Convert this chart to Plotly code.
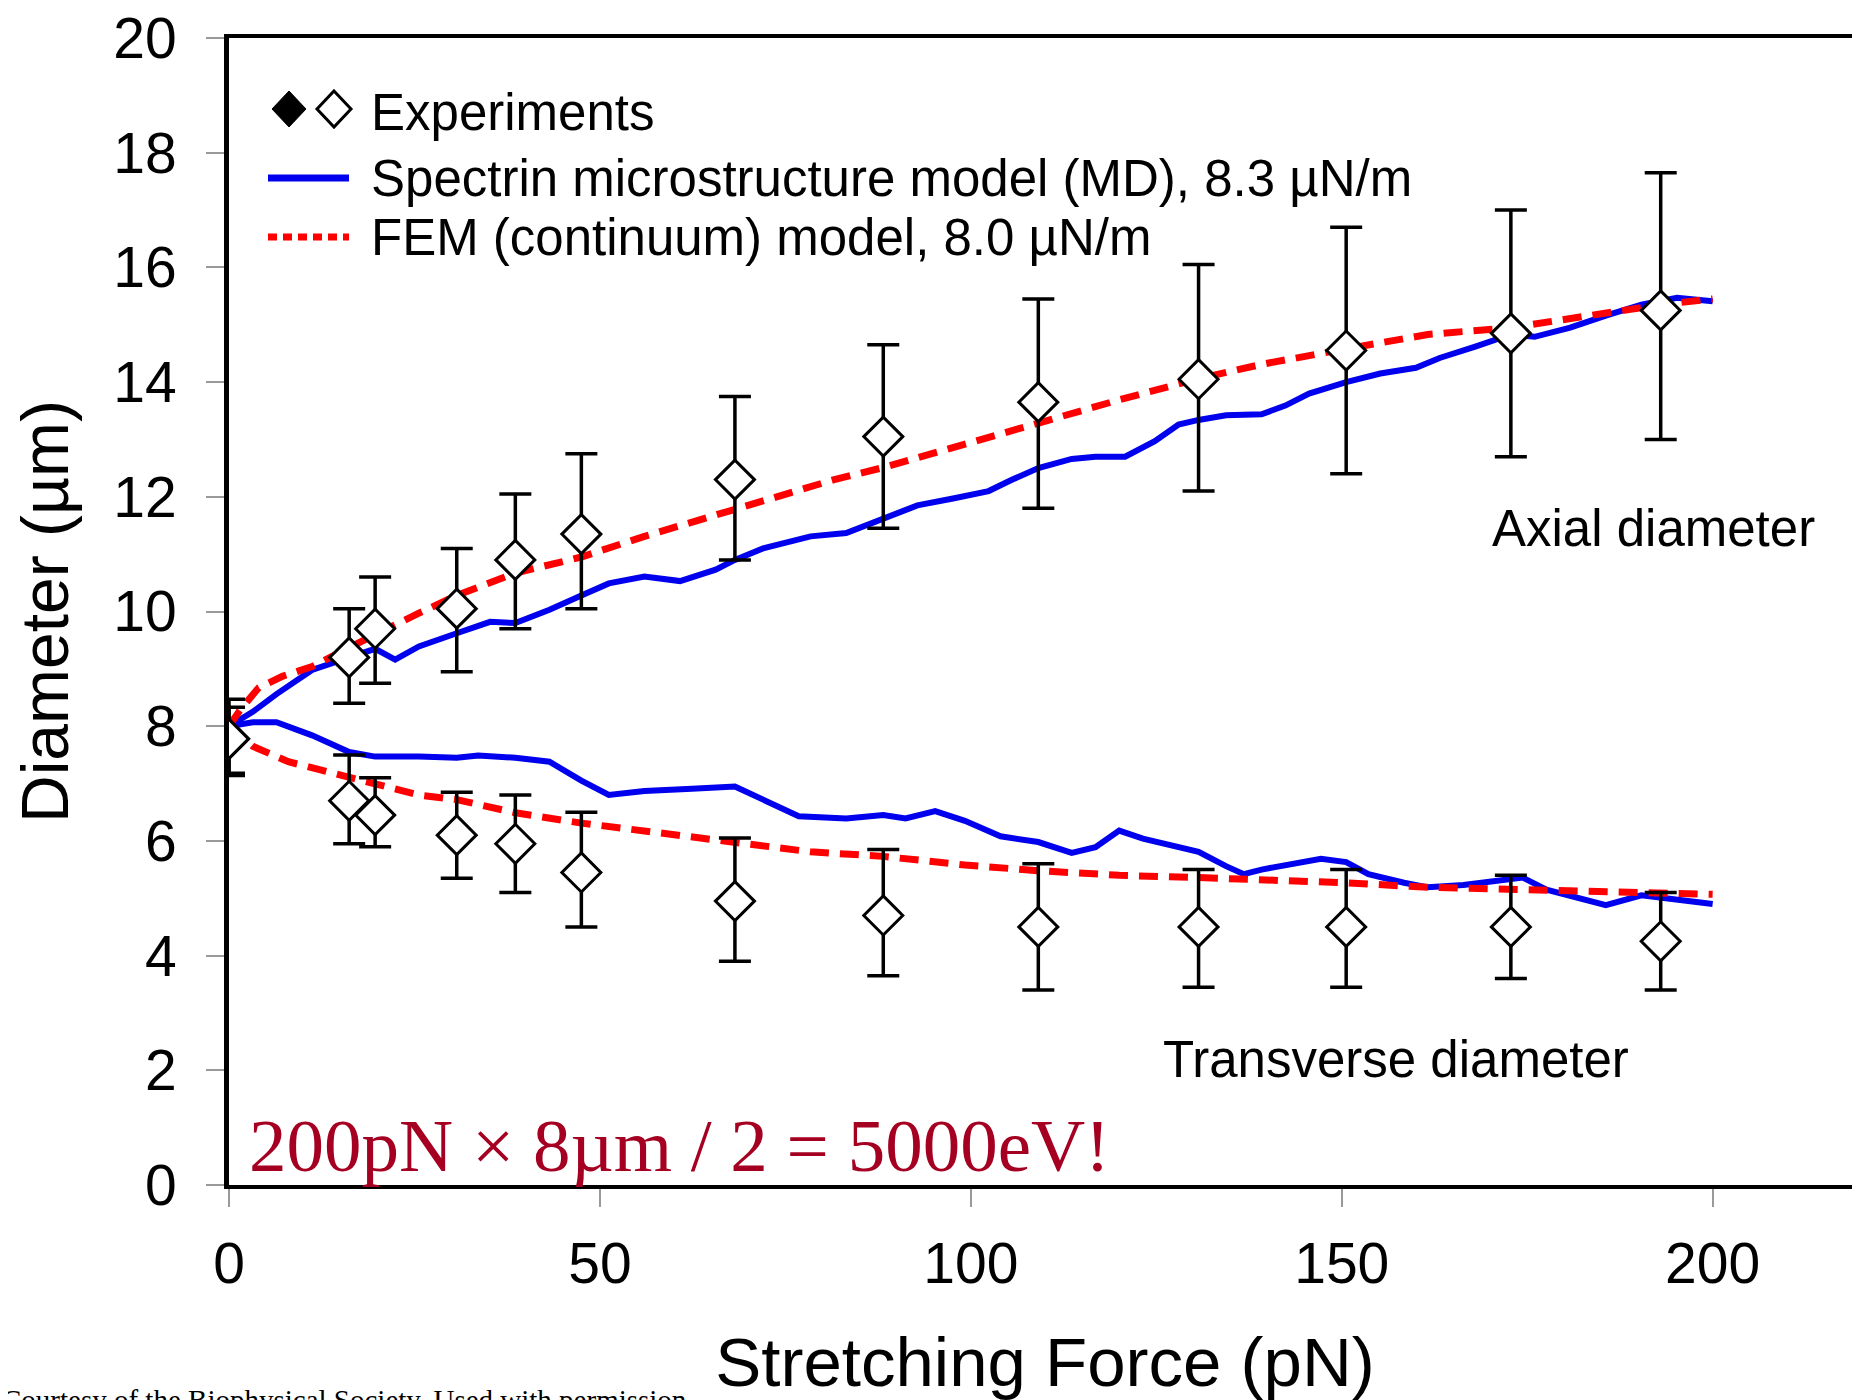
import plotly.graph_objects as go

# ---------------- data ----------------
force_exp = [0, 16.2, 19.7, 30.7, 38.6, 47.5, 68.2, 88.2, 109.1, 130.7, 150.6, 172.8, 193.0]
axial_mean = [7.78, 9.2, 9.7, 10.05, 10.9, 11.35, 12.3, 13.05, 13.65, 14.05, 14.55, 14.85, 15.25]
axial_hi = [8.47, 10.05, 10.6, 11.1, 12.05, 12.75, 13.75, 14.65, 15.45, 16.05, 16.7, 17.0, 17.65]
axial_lo = [7.18, 8.4, 8.75, 8.95, 9.7, 10.05, 10.9, 11.45, 11.8, 12.1, 12.4, 12.7, 13.0]
trans_mean = [7.78, 6.7, 6.45, 6.1, 5.95, 5.45, 4.95, 4.7, 4.5, 4.5, 4.5, 4.5, 4.25]
trans_hi = [8.33, 7.5, 7.1, 6.85, 6.8, 6.5, 6.05, 5.85, 5.6, 5.5, 5.5, 5.4, 5.1]
trans_lo = [7.14, 5.95, 5.9, 5.35, 5.1, 4.5, 3.9, 3.65, 3.4, 3.45, 3.45, 3.6, 3.4]

md_ax_x = [0, 3.2, 6.4, 11.2, 16.2, 19.7, 22.4, 25.6, 30.7, 35.2, 38.6, 43.2, 47.5, 51.2, 56,
           60.8, 65.6, 68.2, 72, 78.4, 83.2, 88.2, 92.8, 97.6, 102.4, 105.6, 109.1, 113.6,
           116.8, 120.8, 124.8, 128, 130.7, 134.4, 139.2, 142.4, 145.6, 150.6, 155.2, 160,
           163.2, 168, 172.8, 176, 180.8, 185.6, 190.4, 195.2, 200]
md_ax_y = [8.0, 8.25, 8.56, 8.98, 9.2, 9.35, 9.16, 9.39, 9.62, 9.82, 9.8, 10.03, 10.28, 10.49, 10.61,
           10.53, 10.73, 10.9, 11.1, 11.31, 11.37, 11.62, 11.85, 11.97, 12.1, 12.3, 12.5, 12.66,
           12.7, 12.7, 12.97, 13.26, 13.34, 13.42, 13.44, 13.59, 13.8, 14.0, 14.15, 14.25,
           14.42, 14.62, 14.83, 14.79, 14.95, 15.16, 15.35, 15.47, 15.41]

md_tr_x = [0, 3.2, 6.4, 11.2, 16.2, 19.7, 25.6, 30.7, 33.6, 38.6, 43.2, 47.5, 51.2, 56, 62.4,
           68.2, 72, 76.8, 83.2, 88.2, 91.2, 95.2, 99.2, 104, 109.1, 113.6, 116.8, 120, 123.2,
           128, 130.7, 134.4, 136.8, 139.2, 144, 147.2, 150.6, 153.6, 158.4, 161.6, 166.4,
           171.2, 174.4, 177.6, 182.4, 185.6, 190.4, 195.2, 200]
md_tr_y = [8.0, 8.07, 8.07, 7.84, 7.55, 7.47, 7.47, 7.45, 7.49, 7.45, 7.38, 7.05, 6.8, 6.87, 6.91,
           6.95, 6.72, 6.43, 6.39, 6.45, 6.39, 6.52, 6.35, 6.08, 5.98, 5.79, 5.89, 6.18, 6.04,
           5.89, 5.81, 5.56, 5.42, 5.5, 5.6, 5.69, 5.63, 5.42, 5.27, 5.19, 5.23,
           5.32, 5.36, 5.15, 4.98, 4.88, 5.05, 4.98, 4.9]

fem_ax_x = [0, 1.6, 4, 7.2, 11.2, 16.2, 19.7, 25.6, 30.7, 38.6, 47.5, 56, 68.2, 81.6, 88.2,
            97.6, 109.1, 120, 130.7, 139.2, 150.6, 161.6, 172.8, 182.4, 193, 200]
fem_ax_y = [8.0, 8.3, 8.67, 8.87, 9.04, 9.35, 9.6, 9.97, 10.28, 10.67, 10.95, 11.31, 11.77, 12.3, 12.51,
            12.86, 13.3, 13.69, 14.06, 14.31, 14.58, 14.83, 14.95, 15.14, 15.35, 15.45]

fem_tr_x = [0, 3.2, 8, 12.8, 16.2, 19.7, 25.6, 30.7, 38.6, 47.5, 56, 68.2, 78.4, 88.2, 99.2,
            109.1, 120, 130.7, 140.8, 150.6, 161.6, 172.8, 182.4, 193, 200]
fem_tr_y = [8.0, 7.65, 7.38, 7.22, 7.11, 6.97, 6.8, 6.72, 6.49, 6.31, 6.18, 5.98, 5.81, 5.73, 5.58,
            5.48, 5.4, 5.36, 5.32, 5.27, 5.19, 5.15, 5.11, 5.09, 5.07]

x_ticks = [0, 50, 100, 150, 200]
y_ticks = [0, 2, 4, 6, 8, 10, 12, 14, 16, 18, 20]

legend_labels = ["Experiments",
                 "Spectrin microstructure model (MD), 8.3 \u00b5N/m",
                 "FEM (continuum) model, 8.0 \u00b5N/m"]

BLUE = "#0000ee"
RED = "#ff0000"
DARKRED = "#a50021"
FONT = "Liberation Sans, Arial, sans-serif"
SERIF = "Liberation Serif, Times New Roman, serif"

fig = go.Figure()

# model curves
for xs, ys in [(md_ax_x, md_ax_y), (md_tr_x, md_tr_y)]:
    fig.add_trace(go.Scatter(x=xs, y=ys, mode="lines",
                             line=dict(color=BLUE, width=6), showlegend=False,
                             name=legend_labels[1]))
for xs, ys in [(fem_ax_x, fem_ax_y), (fem_tr_x, fem_tr_y)]:
    fig.add_trace(go.Scatter(x=xs, y=ys, mode="lines",
                             line=dict(color=RED, width=7, dash="19px,11px"), showlegend=False,
                             name=legend_labels[2]))

# experiments
for m, hi, lo in [(trans_mean, trans_hi, trans_lo), (axial_mean, axial_hi, axial_lo)]:
    fig.add_trace(go.Scatter(
        x=force_exp, y=m, mode="markers", showlegend=False, name=legend_labels[0],
        marker=dict(symbol="diamond", size=30, color="white",
                    line=dict(color="black", width=3)),
        error_y=dict(type="data", symmetric=False,
                     array=[h - v for h, v in zip(hi, m)],
                     arrayminus=[v - l for v, l in zip(m, lo)],
                     color="black", thickness=3.5, width=16)))

# ---------------- geometry (screen pixels; page offset of the plot div) ----------------
OFFX, OFFY = 4, 6
L, R, T, B = 225, 1857, 36, 1183
W, H = R - L, B - T


def px(xp):
    return (xp - L) / W


def py(yp):
    return (B - yp) / H


shapes = []
# legend diamonds
for cx, fill in [(285, "black"), (330, "white")]:
    hw, hh = 17, 18
    path = "M {a},{b} L {c},{d} L {a},{e} L {f},{d} Z".format(
        a=px(cx), b=py(107 - hh), c=px(cx + hw), d=py(107), e=py(107 + hh), f=px(cx - hw))
    shapes.append(dict(type="path", xref="paper", yref="paper", path=path,
                       fillcolor=fill, line=dict(color="black", width=3 if fill == "white" else 1)))
shapes.append(dict(type="line", xref="paper", yref="paper", x0=px(264), x1=px(345),
                   y0=py(176), y1=py(176), line=dict(color=BLUE, width=7)))
shapes.append(dict(type="line", xref="paper", yref="paper", x0=px(264), x1=px(345),
                   y0=py(235), y1=py(235), line=dict(color=RED, width=7, dash="9px,6px")))

annotations = []
for lab, yy in zip(legend_labels, [111, 176, 235]):
    annotations.append(dict(xref="paper", yref="paper", x=px(365), y=py(yy), text=lab,
                            showarrow=False, xanchor="left", yanchor="middle",
                            font=dict(family=FONT, size=51, color="black")))

annotations += [
    dict(x=192, y=11.45, text="Axial diameter", showarrow=False, xanchor="center", yanchor="middle",
         font=dict(family=FONT, size=51, color="black")),
    dict(x=157.3, y=2.18, text="Transverse diameter", showarrow=False, xanchor="center",
         yanchor="middle", font=dict(family=FONT, size=51, color="black")),
    dict(x=2.4, y=0.69, text="200pN \u00d7 8\u00b5m / 2 = 5000eV!", showarrow=False,
         xanchor="left", yanchor="middle", font=dict(family=SERIF, size=75, color=DARKRED)),
    dict(xref="paper", yref="paper", x=px(-4), y=py(1380),
         text="Courtesy of the Biophysical Society. Used with permission.", showarrow=False,
         xanchor="left", yanchor="top", font=dict(family=SERIF, size=29, color="black")),
]

fig.update_layout(
    width=1860, height=1400,
    margin=dict(l=L - OFFX, r=1860 - R + OFFX, t=T - OFFY, b=1400 - B + OFFY),
    paper_bgcolor="white", plot_bgcolor="white",
    shapes=shapes, annotations=annotations,
    font=dict(family=FONT, color="black"),
    xaxis=dict(range=[0, 220], tickvals=x_ticks, ticktext=[str(v) for v in x_ticks],
               automargin=False, ticklabeloverflow="allow",
               showgrid=False, zeroline=False, showline=True, linecolor="black", linewidth=4,
               mirror=True, ticks="outside", ticklen=18, tickwidth=2, tickcolor="#999999",
               tickfont=dict(family=FONT, size=57, color="black"), ticklabelstandoff=8,
               title=dict(text="Stretching Force (pN)", font=dict(family=FONT, size=69, color="black"),
                          standoff=44)),
    yaxis=dict(range=[0, 20], tickvals=y_ticks, ticktext=[str(v) for v in y_ticks],
               automargin=False, ticklabeloverflow="allow",
               showgrid=False, zeroline=False, showline=True, linecolor="black", linewidth=5,
               mirror=True, ticks="outside", ticklen=18, tickwidth=2, tickcolor="#999999",
               tickfont=dict(family=FONT, size=57, color="black"), ticklabelstandoff=18,
               title=dict(text="Diameter (\u00b5m)", font=dict(family=FONT, size=66, color="black"),
                          standoff=53)),
)

fig.write_html("out.html")
